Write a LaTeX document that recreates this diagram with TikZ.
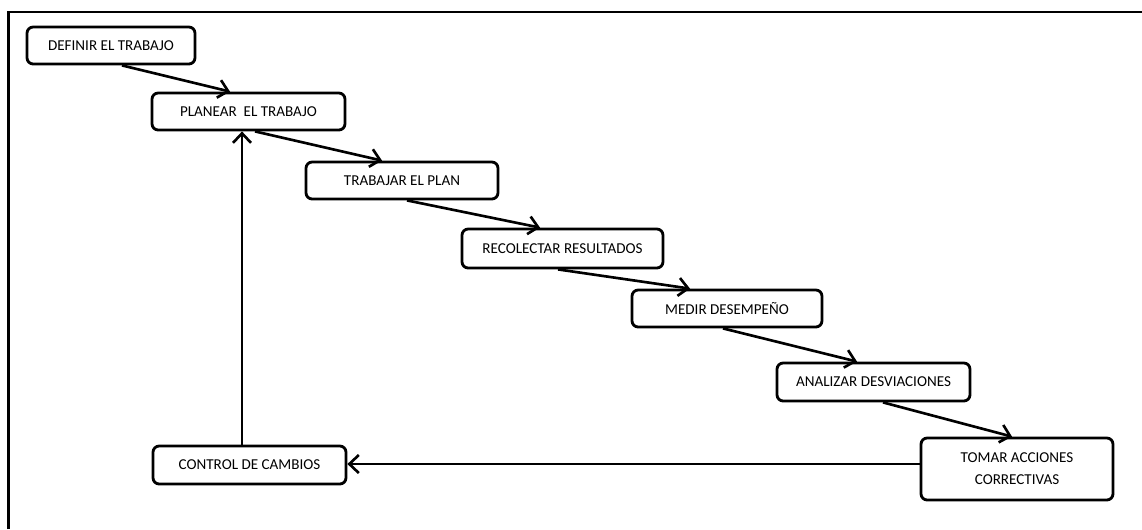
\documentclass[tikz,border=0pt]{standalone}
\usepackage{fontspec}
\setmainfont{Carlito}
\usetikzlibrary{arrows.meta}
\begin{document}
\begin{tikzpicture}[x=0.02cm,y=-0.02cm,
  stepbox/.style={draw, line width=1.6pt, rounded corners=3.5pt, fill=white,
    align=center, inner sep=0pt, font=\fontsize{8.6}{10.5}\selectfont},
  arr/.style={line width=1.5pt, -{Straight Barb[length=1.9mm,width=3.6mm,line width=1.5pt]}}]
\useasboundingbox (0,0) rectangle (1142,529);
\draw[line width=1.6pt] (8.5,529) -- (8.5,12) -- (1142,12);
\node[stepbox, minimum width=3.36cm, minimum height=0.74cm] (d) at (111,45.5) {DEFINIR\ EL TRABAJO};
\node[stepbox, minimum width=3.86cm, minimum height=0.74cm] (p) at (248.5,111.5) {PLANEAR\ \ EL TRABAJO};
\node[stepbox, minimum width=3.84cm, minimum height=0.74cm] (t) at (402,180.5) {TRABAJAR EL PLAN};
\node[stepbox, minimum width=4.02cm, minimum height=0.78cm] (r) at (562.5,248.5) {RECOLECTAR RESULTADOS};
\node[stepbox, minimum width=3.80cm, minimum height=0.74cm] (m) at (727,308.5) {MEDIR DESEMPEÑO};
\node[stepbox, minimum width=3.86cm, minimum height=0.76cm] (a) at (873.5,382) {ANALIZAR DESVIACIONES};
\node[stepbox, minimum width=3.86cm, minimum height=0.76cm] (c) at (249.5,465) {CONTROL DE CAMBIOS};
\node[stepbox, minimum width=3.84cm, minimum height=1.24cm] (tm) at (1017,469) {TOMAR ACCIONES\\[2pt]CORRECTIVAS};
\draw[arr] ([xshift=0.22cm]d.south) -- ([xshift=-0.37cm]p.north);
\draw[arr] ([xshift=0.13cm]p.south) -- ([xshift=-0.40cm]t.north);
\draw[arr] ([xshift=0.10cm]t.south) -- ([xshift=-0.45cm]r.north);
\draw[arr] ([xshift=-0.09cm]r.south) -- ([xshift=-0.74cm]m.north);
\draw[arr] ([xshift=-0.08cm]m.south) -- ([xshift=-0.33cm]a.north);
\draw[arr] ([xshift=0.19cm]a.south) -- ([xshift=-0.10cm]tm.north);
\draw[arr] ([xshift=-0.15cm]c.north) coordinate (cn) -- (cn |- p.south);
\draw[arr] ([yshift=0.10cm]tm.west) coordinate (tw) -- (tw -| c.east);
\end{tikzpicture}
\end{document}
